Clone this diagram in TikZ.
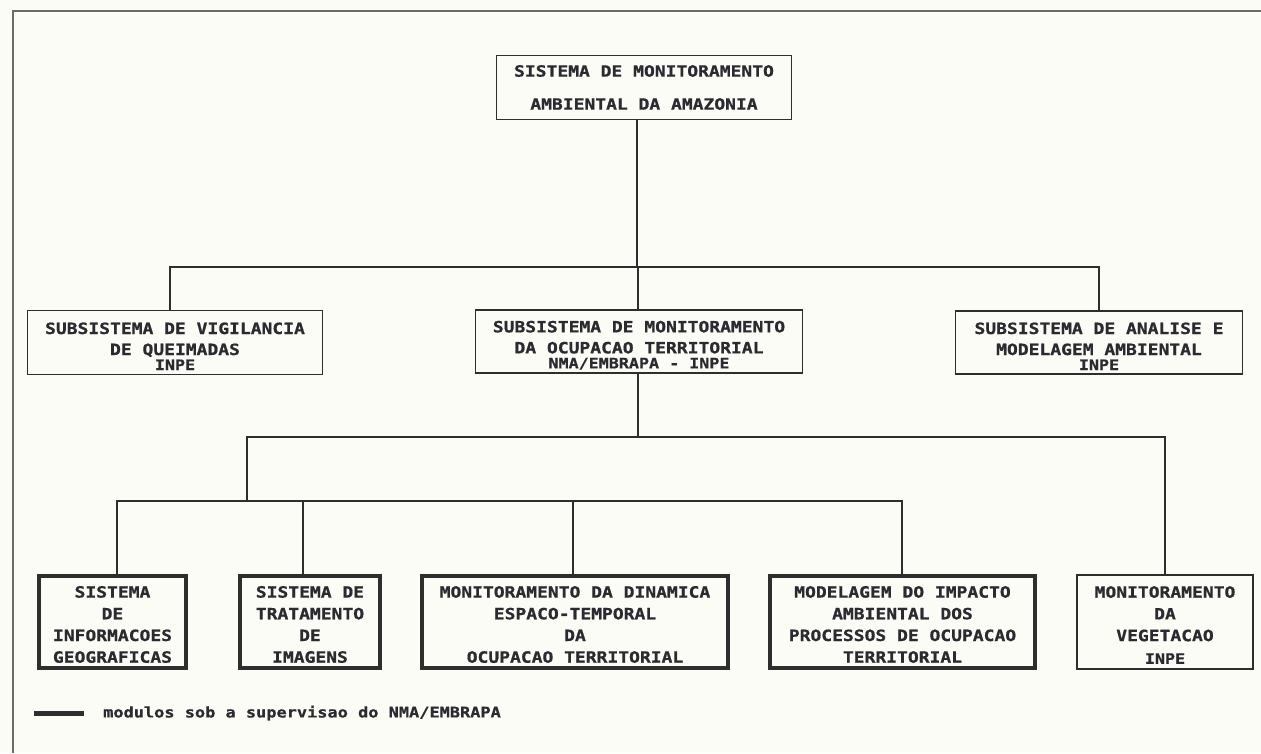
\documentclass[tikz,border=0pt]{standalone}
\usepackage{fontspec}
\newfontfamily\pix[FakeStretch=1.16,FakeBold=0.8]{DejaVu Sans Mono}
\definecolor{inkc}{HTML}{2E2E2E}
\definecolor{textc}{HTML}{2A2A30}
\definecolor{framec}{HTML}{6A6A6A}
\definecolor{bgc}{HTML}{FCFCF7}
\newcommand\pixTop{\pix\bfseries\fontsize{15.5}{33}\selectfont}
\newcommand\pixA{\pix\bfseries\fontsize{15.5}{21}\selectfont}
\newcommand\pixB{\pix\bfseries\fontsize{15.5}{21.7}\selectfont}
\newcommand\pixS{\pix\bfseries\fontsize{14.4}{15}\selectfont}
\newcommand\pixL{\pix\bfseries\fontsize{14.6}{16}\selectfont}
\newcommand\topstrut[1]{\rule{0pt}{#1}}
\begin{document}
\begin{tikzpicture}[x=1pt,y=-1pt,
  thinbox/.style={draw=inkc, line width=1.6pt, inner sep=0pt, align=center, text=textc, anchor=center},
  thickbox/.style={thinbox, line width=4pt},
  wire/.style={draw=inkc, line width=1.3pt},
  framel/.style={draw=framec, line width=1.5pt}]
\fill[bgc] (0,0) rectangle (1261,753);
\useasboundingbox (0,0) rectangle (1261,753);
% frame
\coordinate (fa) at (13,753);
\coordinate (fb) at (13,11);
\coordinate (fc) at (1261,11);
\draw[framel] (fa) -- (fb) -- (fc);

% top
\node[thinbox, minimum width=295, minimum height=64, font=\pixTop] (top) at (644,87.5)
  {SISTEMA DE MONITORAMENTO\\AMBIENTAL DA AMAZONIA};

% level 2
\node[thinbox, minimum width=295, minimum height=64, font=\pixA] (la) at (175,342.5)
  {\topstrut{19pt}SUBSISTEMA DE VIGILANCIA\\DE QUEIMADAS\\[-6pt]{\pixS INPE}};
\node[thinbox, minimum width=327, minimum height=63, font=\pixA] (lb) at (639,341.5)
  {\topstrut{19pt}SUBSISTEMA DE MONITORAMENTO\\DA OCUPACAO TERRITORIAL\\[-6pt]{\pixS NMA/EMBRAPA - INPE}};
\node[thinbox, minimum width=287, minimum height=63, font=\pixA] (lc) at (1099,342.5)
  {\topstrut{19pt}SUBSISTEMA DE ANALISE E\\MODELAGEM AMBIENTAL\\[-6pt]{\pixS INPE}};

% level 3
\node[thickbox, minimum width=147, minimum height=92, font=\pixB] (ba) at (112.5,622)
  {\topstrut{16.5pt}SISTEMA\\DE\\INFORMACOES\\GEOGRAFICAS};
\node[thickbox, minimum width=140, minimum height=92, font=\pixB] (bb) at (310,622)
  {\topstrut{16.5pt}SISTEMA DE\\TRATAMENTO\\DE\\IMAGENS};
\node[thickbox, minimum width=306, minimum height=92, font=\pixB] (bc) at (575,622)
  {\topstrut{16.5pt}MONITORAMENTO DA DINAMICA\\ESPACO-TEMPORAL\\DA\\OCUPACAO TERRITORIAL};
\node[thickbox, minimum width=265, minimum height=92, font=\pixB] (bd) at (902.5,622)
  {\topstrut{16.5pt}MODELAGEM DO IMPACTO\\AMBIENTAL DOS\\PROCESSOS DE OCUPACAO\\TERRITORIAL};
\node[thinbox, minimum width=176, minimum height=94, font=\pixB] (be) at (1165,622)
  {\topstrut{17.5pt}MONITORAMENTO\\DA\\VEGETACAO\\[1pt]{\pixS INPE}};

% connectors level 1 -> 2
\coordinate (j1) at (637,267);
\draw[wire] (top.south -| j1) -- (j1);
\draw[wire] (la.north -| 170,0) -- (170,267 |- j1) -- (1099,267 |- j1) -- (lc.north -| 1099,0);
\draw[wire] (lb.north -| 638,0) -- (638,267 |- j1);

% connectors level 2 -> 3
\coordinate (j2) at (638,437);
\coordinate (j3) at (247,501);
\draw[wire] (lb.south -| j2) -- (j2);
\draw[wire] (j3) -- (j3 |- j2) -- (be.north |- j2) -- (be.north);
\draw[wire] (ba.north -| 117,0) -- (117,0 |- j3) -- (902,0 |- j3) -- (bd.north -| 902,0);
\draw[wire] (bb.north -| 303,0) -- (303,0 |- j3);
\draw[wire] (bc.north -| 573,0) -- (573,0 |- j3);

% legend
\coordinate (lg1) at (34,713);
\coordinate (lg2) at (84,713);
\draw[draw=inkc, line width=5pt] (lg1) -- (lg2);
\node[anchor=west, inner sep=0pt, text=textc, font=\pixL] (lgt) at (103,713)
  {modulos sob a supervisao do NMA/EMBRAPA};
\end{tikzpicture}
\end{document}
